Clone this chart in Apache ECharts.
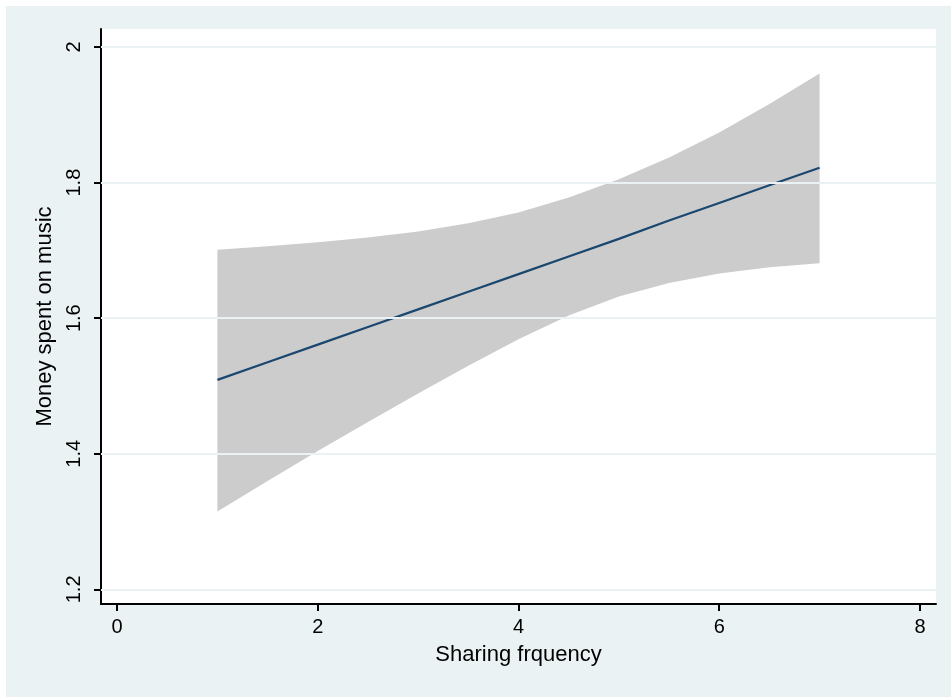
<!DOCTYPE html>
<html>
<head>
<meta charset="utf-8">
<script src="https://cdn.jsdelivr.net/npm/echarts@6/dist/echarts.min.js"></script>
<style>
  html, body { margin: 0; padding: 0; background: #ffffff; }
  #chart { width: 951px; height: 697px; }
</style>
</head>
<body>
<div id="chart"></div>
<script>
  // values
  var xValues = [1, 1.5, 2, 2.5, 3, 3.5, 4, 4.5, 5, 5.5, 6, 6.5, 7]
  var fitValues = [1.509, 1.535, 1.561, 1.587, 1.613, 1.639, 1.665, 1.691, 1.717, 1.744, 1.770, 1.796, 1.822]
  var upperValues = [1.701, 1.706, 1.712, 1.719, 1.728, 1.740, 1.756, 1.778, 1.805, 1.837, 1.874, 1.916, 1.961]
  var lowerValues = [1.315, 1.360, 1.404, 1.447, 1.489, 1.530, 1.569, 1.604, 1.632, 1.652, 1.666, 1.675, 1.681]
  var xTicks = [0, 2, 4, 6, 8]
  var yTicks = [1.2, 1.4, 1.6, 1.8, 2]

  var fontName = 'Liberation Sans'

  function pairs(ys) {
    return xValues.map(function (x, i) { return [x, ys[i]] })
  }

  var chart = echarts.init(document.getElementById('chart'))
  chart.setOption({
    backgroundColor: '#ffffff',
    animation: false,
    graphic: [{
      type: 'rect', z: -10,
      shape: { x: 6, y: 6, width: 945, height: 691 },
      style: { fill: '#eaf2f3' }
    }, {
      type: 'rect', z: -9,
      shape: { x: 101, y: 29, width: 835, height: 575 },
      style: { fill: '#ffffff' }
    }],
    grid: { left: 101, right: 15, top: 29, bottom: 93 },
    xAxis: {
      type: 'value',
      min: -0.16,
      max: 8.16,
      name: 'Sharing frquency',
      nameLocation: 'middle',
      nameGap: 40,
      nameTextStyle: { fontFamily: fontName, fontSize: 22, color: '#000' },
      axisLine: { show: true, onZero: false, lineStyle: { color: '#000', width: 2 } },
      axisTick: { show: true, length: 7, customValues: xTicks, lineStyle: { color: '#000', width: 2 } },
      axisLabel: { customValues: xTicks, margin: 13, fontFamily: fontName, fontSize: 20, color: '#000' },
      splitLine: { show: false }
    },
    yAxis: {
      type: 'value',
      min: 1.1784,
      max: 2.0266,
      name: 'Money spent on music',
      nameLocation: 'middle',
      nameGap: 44,
      nameTextStyle: { fontFamily: fontName, fontSize: 22, color: '#000' },
      axisLine: { show: true, onZero: false, lineStyle: { color: '#000', width: 2 } },
      axisTick: { show: true, length: 7, customValues: yTicks, lineStyle: { color: '#000', width: 2 } },
      axisLabel: { customValues: yTicks, rotate: 90, margin: 17, fontFamily: fontName, fontSize: 20, color: '#000' },
      splitLine: { show: false }
    },
    series: [{
      // gridlines, behind the band
      type: 'line',
      data: [],
      z: 1,
      markLine: {
        silent: true,
        symbol: 'none',
        label: { show: false },
        lineStyle: { color: '#eaf2f3', width: 2, type: 'solid' },
        data: yTicks.map(function (v) { return { yAxis: v } })
      }
    }, {
      // confidence band: upper edge forward, lower edge back
      type: 'custom',
      z: 2,
      silent: true,
      data: [0],
      renderItem: function (params, api) {
        var pts = []
        xValues.forEach(function (x, i) { pts.push(api.coord([x, upperValues[i]])) })
        for (var i = xValues.length - 1; i >= 0; i--) {
          pts.push(api.coord([xValues[i], lowerValues[i]]))
        }
        return {
          type: 'polygon',
          shape: { points: pts },
          style: { fill: '#cccccc', stroke: null }
        }
      }
    }, {
      type: 'line',
      data: pairs(fitValues),
      symbol: 'none',
      lineStyle: { color: '#1a476f', width: 2.2 },
      z: 4
    }]
  })
</script>
</body>
</html>
